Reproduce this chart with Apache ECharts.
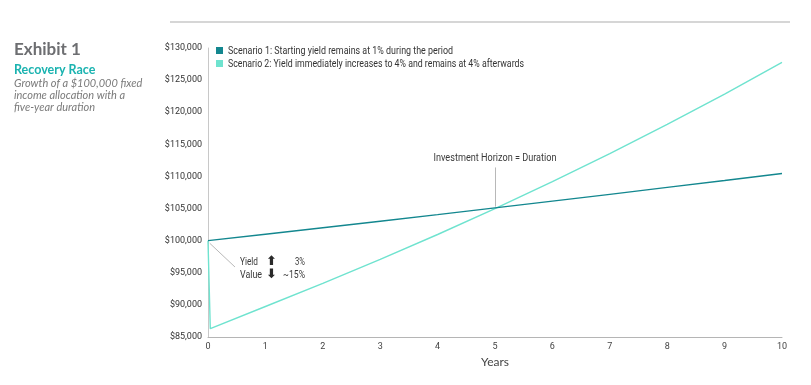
<!DOCTYPE html>
<html>
<head>
<meta charset="utf-8">
<script src="https://cdn.jsdelivr.net/npm/echarts@6/dist/echarts.min.js"></script>
<style>
  html, body { margin: 0; padding: 0; background: #fff; }
  #chart { width: 811px; height: 385px; }
</style>
</head>
<body>
<div id="chart"></div>
<script>
// values
var years = [0, 1, 2, 3, 4, 5, 6, 7, 8, 9, 10];
var scenario1 = [100000, 101000, 102010, 103030, 104060, 105100, 106150, 107210, 108290, 109370, 110460];
// scenario 2 drops right away, then climbs
var scenario2Times = [0, 0.04, 1, 2, 3, 4, 5, 6, 7, 8, 9, 10];
var scenario2 = [100000, 86300, 89750, 93340, 97080, 100960, 105000, 109200, 113570, 118110, 122830, 127750];
var legendNames = [
  'Scenario 1: Starting yield remains at 1% during the period',
  'Scenario 2: Yield immediately increases to 4% and remains at 4% afterwards'
];

var font = 'Roboto';
var dark = '#13878f';
var light = '#6fe3cf';

// the original uses a condensed face, squeeze a normal one to the same width
var ctx = document.createElement('canvas').getContext('2d');
function squeeze(text, size, width) {
  ctx.font = size + 'px ' + font;
  return width / ctx.measureText(text).width;
}
function narrowText(x, y, text, width, extra) {
  var st = { text: text, fontFamily: font, fontSize: 11.5, fill: '#3a3a3a', verticalAlign: 'middle' };
  for (var k in extra) st[k] = extra[k];
  return { type: 'text', x: x, y: y, scaleX: squeeze(text, st.fontSize, width), style: st, z: 10 };
}

var chart = echarts.init(document.getElementById('chart'));

var option = {
  animation: false,
  grid: { left: 208, right: 29, top: 48, bottom: 48 },
  xAxis: {
    type: 'value',
    min: 0,
    max: 10,
    interval: 1,
    name: 'Years',
    nameLocation: 'middle',
    nameGap: 19,
    nameTextStyle: { fontFamily: 'Lato', fontSize: 12, color: '#444' },
    axisLine: { show: true, lineStyle: { color: '#b5b5b5', width: 1 } },
    axisTick: { show: false },
    splitLine: { show: false },
    axisLabel: { fontFamily: font, fontSize: 9, color: '#444', margin: 5 }
  },
  yAxis: {
    type: 'value',
    min: 85000,
    max: 130000,
    interval: 5000,
    axisLine: { show: true, lineStyle: { color: '#c8c8c8', width: 1 } },
    axisTick: { show: false },
    splitLine: { show: false },
    axisLabel: {
      fontFamily: font,
      fontSize: 9,
      color: '#333',
      margin: 6,
      formatter: function (v) { return '$' + v.toLocaleString('en-US'); }
    }
  },
  series: [
    {
      name: legendNames[0],
      type: 'line',
      showSymbol: false,
      color: dark,
      lineStyle: { width: 1.4, color: dark },
      data: years.map(function (t, i) { return [t, scenario1[i]]; }),
      z: 3
    },
    {
      name: legendNames[1],
      type: 'line',
      showSymbol: false,
      color: light,
      lineStyle: { width: 1.4, color: light },
      data: scenario2Times.map(function (t, i) { return [t, scenario2[i]]; }),
      markLine: {
        silent: true,
        symbol: ['none', 'none'],
        lineStyle: { color: '#b8b8b8', width: 1, type: 'solid' },
        label: { show: false },
        data: [
          [{ coord: [5, 105300] }, { coord: [5, 111400] }],
          [{ coord: [0.03, 99600] }, { coord: [0.47, 95900] }]
        ]
      },
      z: 2
    }
  ]
};

chart.setOption(option);

// annotation positions follow the axes
var horizon = chart.convertToPixel({ gridIndex: 0 }, [5, 111400]);
var hText = 'Investment Horizon = Duration';
var hScale = squeeze(hText, 11.5, 123);

chart.setOption({
  graphic: [
    { type: 'line', shape: { x1: 170, y1: 22, x2: 790, y2: 22 }, style: { stroke: '#d6d6d6', lineWidth: 2 } },
    { type: 'text', x: 14, y: 41, style: { text: 'Exhibit 1', fontFamily: 'Lato', fontWeight: 'bold', fontSize: 17, fill: '#6d6e71' } },
    { type: 'text', x: 14, y: 63, style: { text: 'Recovery Race', fontFamily: 'Lato', fontWeight: 'bold', fontSize: 12.5, fill: '#1ab3b0' } },
    { type: 'text', x: 14, y: 78, style: { text: 'Growth of a $100,000 fixed\nincome allocation with a\nfive-year duration',
      fontFamily: 'Lato', fontStyle: 'italic', fontSize: 11, lineHeight: 11.7, fill: '#7a7a7a' } },
    // legend
    { type: 'rect', shape: { x: 216, y: 47, width: 7, height: 7 }, style: { fill: dark } },
    { type: 'rect', shape: { x: 216, y: 60, width: 7, height: 7 }, style: { fill: light } },
    narrowText(228, 51, legendNames[0], 225, { fill: '#333' }),
    narrowText(228, 64, legendNames[1], 296, { fill: '#333' }),
    // horizon note
    { type: 'text', x: horizon[0] - 123 / 2, y: horizon[1] - 9, scaleX: hScale,
      style: { text: hText, fontFamily: font, fontSize: 11.5, fill: '#3a3a3a', verticalAlign: 'middle' } },
    // yield / value note
    narrowText(240, 262, 'Yield', 18),
    narrowText(240, 275, 'Value', 22),
    { type: 'text', x: 266, y: 262, style: { text: '⬆', fontFamily: 'DejaVu Sans', fontSize: 13, fontWeight: 'bold', fill: '#2a2a2a', verticalAlign: 'middle' } },
    { type: 'text', x: 266, y: 275, style: { text: '⬇', fontFamily: 'DejaVu Sans', fontSize: 13, fontWeight: 'bold', fill: '#2a2a2a', verticalAlign: 'middle' } },
    narrowText(295, 262, '3%', 10),
    narrowText(283, 275, '~15%', 22)
  ]
});
</script>
</body>
</html>
